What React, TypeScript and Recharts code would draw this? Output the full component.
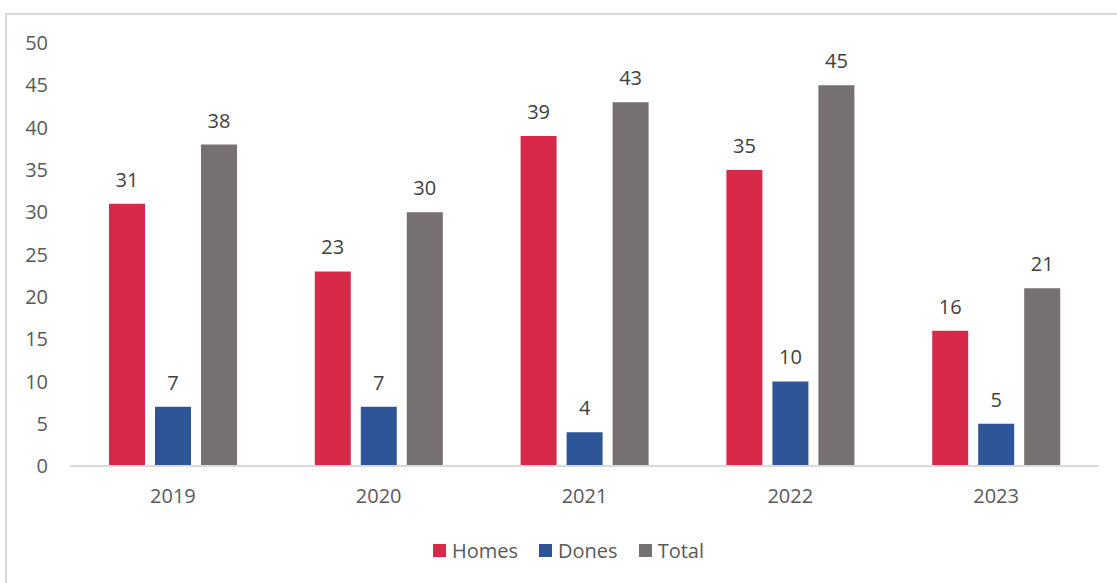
import React from 'react';
import { BarChart, Bar, XAxis, YAxis, Legend, LabelList } from 'recharts';

const years = ['2019', '2020', '2021', '2022', '2023'];
const homes = [31, 23, 39, 35, 16];
const dones = [7, 7, 4, 10, 5];
const total = [38, 30, 43, 45, 21];
const yTicks = [0, 5, 10, 15, 20, 25, 30, 35, 40, 45, 50];
const seriesNames = ['Homes', 'Dones', 'Total'];
const seriesColors = ['#d9294b', '#2e5597', '#767070'];

const FONT = '"Open Sans", "Noto Sans", sans-serif';

const data = years.map((year, i) => ({
  year,
  Homes: homes[i],
  Dones: dones[i],
  Total: total[i],
}));

const renderLegend = () => (
  <div
    style={{
      display: 'flex',
      justifyContent: 'center',
      alignItems: 'center',
      gap: 21,
      height: 26,
      paddingLeft: 28,
    }}
  >
    {seriesNames.map((name, i) => (
      <div key={name} style={{ display: 'flex', alignItems: 'center', gap: 6 }}>
        <span style={{ display: 'inline-block', width: 13, height: 13, background: seriesColors[i] }} />
        <span style={{ color: '#595959', fontSize: 20, fontFamily: FONT }}>{name}</span>
      </div>
    ))}
  </div>
);

const App: React.FC = () => {
  return (
    <div style={{ position: 'relative', width: 1117, height: 583, overflow: 'hidden', fontFamily: FONT }}>
      <style>{'body { margin: 0; }'}</style>
      <div
        style={{
          position: 'absolute',
          left: 5,
          top: 13,
          width: 1130,
          height: 600,
          border: '2px solid #d9d9d9',
          boxSizing: 'border-box',
        }}
      />
      <div style={{ position: 'absolute', left: 0, top: 0 }}>
        <BarChart
          width={1117}
          height={583}
          data={data}
          margin={{ top: 43, right: 18, left: 10, bottom: 20 }}
          barCategoryGap="19%"
          barGap={10}
        >
          <XAxis
            dataKey="year"
            tickLine={false}
            axisLine={{ stroke: '#d9d9d9', strokeWidth: 2 }}
            tick={{ fill: '#595959', fontSize: 20, fontFamily: FONT }}
            tickMargin={17}
            height={71}
          />
          <YAxis
            domain={[0, 50]}
            ticks={yTicks}
            interval={0}
            axisLine={false}
            tickLine={false}
            tick={{ fill: '#595959', fontSize: 20, fontFamily: FONT }}
            tickMargin={16}
            width={60}
          />
          <Legend verticalAlign="bottom" align="center" height={26} content={renderLegend} />
          {seriesNames.map((name, i) => (
            <Bar key={name} dataKey={name} fill={seriesColors[i]} barSize={36} isAnimationActive={false}>
              <LabelList dataKey={name} position="top" offset={17} fill="#404040" fontSize={20} fontFamily={FONT} />
            </Bar>
          ))}
        </BarChart>
      </div>
    </div>
  );
};

export default App;
